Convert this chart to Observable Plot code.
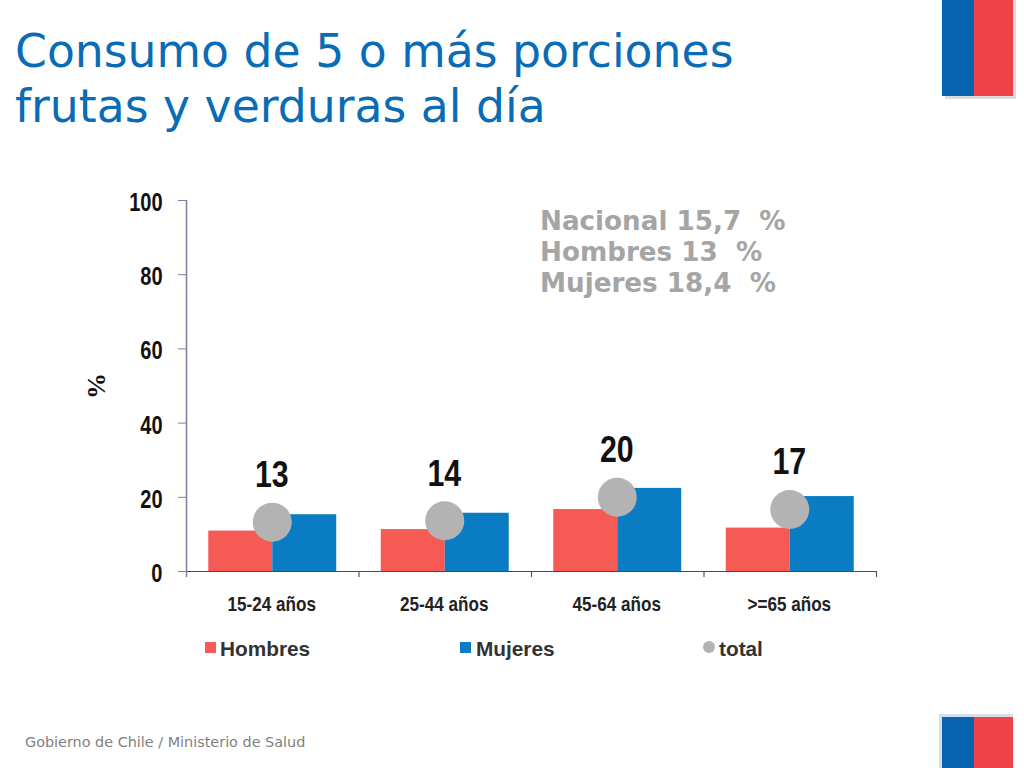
<!DOCTYPE html>
<html lang="es">
<head>
<meta charset="utf-8">
<script src="https://cdn.jsdelivr.net/npm/d3@7"></script>
<script src="https://cdn.jsdelivr.net/npm/@observablehq/plot@0.6"></script>
<style>
html,body{margin:0;padding:0;background:#fff;width:1024px;height:768px;overflow:hidden;}
#wrap{position:relative;width:1024px;height:768px;overflow:hidden;}
#chart{position:absolute;left:0;top:0;}
.abs{position:absolute;white-space:pre;}
#title{left:15px;top:24px;font:45.7px/55px "DejaVu Sans",sans-serif;color:#0a6cb4;}
#info{left:540px;top:206px;font:bold 26.2px/31px "DejaVu Sans",sans-serif;color:#a5a5a5;}
#foot{left:25px;top:733px;font:14.4px/18px "DejaVu Sans",sans-serif;color:#808080;}
.leg{font:bold 20.8px/24px "Liberation Sans",sans-serif;color:#333;top:637px;}
.sw{position:absolute;}
.blue{background:#0563b0;position:absolute;}
.red{background:#f04146;position:absolute;}
</style>
</head>
<body>
<div id="wrap">
  <div id="chart"></div>
  <div class="abs" id="title">Consumo de 5 o más porciones
frutas y verduras al día</div>
  <div class="abs" id="info">Nacional 15,7  %
Hombres 13  %
Mujeres 18,4  %</div>
  <div class="abs" id="foot">Gobierno de Chile / Ministerio de Salud</div>
  <div id="legend"></div>
  <div class="sw" style="left:945px;top:0;width:71px;height:99px;background:#dcdcdc"></div>
  <div class="blue" style="left:942px;top:0;width:32px;height:96px"></div>
  <div class="red" style="left:974px;top:0;width:39px;height:96px"></div>
  <div class="sw" style="left:939px;top:714px;width:74px;height:54px;background:#d5dde8"></div>
  <div class="blue" style="left:942px;top:717px;width:32px;height:51px"></div>
  <div class="red" style="left:974px;top:717px;width:39px;height:51px"></div>
</div>
<script>
const ages = ["15-24 años", "25-44 años", "45-64 años", ">=65 años"];
const series = ["Hombres", "Mujeres"];
const hombres = [10.9, 11.3, 16.7, 11.7];
const mujeres = [15.3, 15.7, 22.4, 20.2];
const total = [13.3, 13.7, 20, 16.7];
const totalLabels = ["13", "14", "20", "17"];
const yTicks = [0, 20, 40, 60, 80, 100];
const colors = ["#f55a55", "#0a7cc4"];
const totalColor = "#b3b3b3";

const sans = '"Liberation Sans",sans-serif';
const bars = ages.flatMap((a, i) => [
  {age: a, sex: series[0], v: hombres[i]},
  {age: a, sex: series[1], v: mujeres[i]}
]);
const totals = ages.map((a, i) => ({age: a, v: total[i], label: totalLabels[i]}));

const plot = Plot.plot({
  width: 1024, height: 768,
  marginLeft: 186, marginRight: 148, marginTop: 200, marginBottom: 197,
  style: {background: "transparent", overflow: "visible"},
  fx: {domain: ages, padding: 0, round: false, label: null},
  x: {domain: series, paddingInner: 0, paddingOuter: 0.348, round: false, axis: null},
  y: {domain: [0, 100], axis: null},
  color: {domain: series, range: colors},
  marks: [
    Plot.barY(bars, {fx: "age", x: "sex", y: "v", fill: "sex"}),
    Plot.ruleY([0], {stroke: "#4a4a4a", strokeWidth: 1.2}),
    Plot.ruleX(ages.slice(0, 1), {x: null, fx: d => d, dx: -86.25, y1: 100, y2: -1.6, stroke: "#7d7f9e", strokeWidth: 1.5}),
    Plot.ruleX(ages.slice(1), {x: null, fx: d => d, dx: -86.25, y1: 0, y2: -1.6, stroke: "#555", strokeWidth: 1.2}),
    Plot.ruleX(ages.slice(-1), {x: null, fx: d => d, dx: 86.25, y1: 0, y2: -1.6, stroke: "#555", strokeWidth: 1.2}),
    Plot.axisY({
      className: "narrow-y",
      ticks: yTicks, tickSize: 8, tickPadding: 16, stroke: "#7d7f9e", color: "#111",
      fontFamily: sans, fontWeight: "bold", fontSize: 25, label: null, strokeOpacity: 1
    }),
    Plot.axisFx({
      className: "narrow-x",
      anchor: "bottom", tickSize: 0, tickPadding: 25, color: "#222",
      fontFamily: sans, fontWeight: "bold", fontSize: 21, label: null
    }),
    Plot.dot(totals, {fx: "age", y: "v", r: 19.5, fill: totalColor, dx: -0.5}),
    Plot.text(totals, {className: "narrow-n", fx: "age", y: "v", text: "label", dy: -47, dx: -1, fill: "#111",
      fontFamily: sans, fontWeight: "bold", fontSize: 37}),
    Plot.text(["%"], {fx: () => ages[0], y: () => 50, frameAnchor: "left", textAnchor: "middle", dx: -90, rotate: -90, fill: "#111",
      fontFamily: '"Liberation Serif",serif', fontWeight: "bold", fontSize: 26})
  ]
});
document.getElementById("chart").append(plot);

// No narrow font is installed: condense the sans glyphs horizontally, as Arial Narrow would look.
const condense = (cls, k, dx = 0, dy = 0) => d3.select(plot).selectAll(`.${cls} text`).each(function () {
  const t = this.getAttribute("transform") || "";
  this.setAttribute("transform", `translate(${dx},${dy}) ${t} scale(${k},1)`);
});
condense("narrow-y", 0.8, 0, 2.5);
condense("narrow-x", 0.815, -1, 0);
condense("narrow-n", 0.82);

const legendItems = [
  {name: series[0], color: colors[0], sx: 205, tx: 220},
  {name: series[1], color: colors[1], sx: 460, tx: 476}
];
const legend = document.getElementById("legend");
for (const it of legendItems) {
  legend.insertAdjacentHTML("beforeend",
    `<div class="sw" style="left:${it.sx}px;top:642px;width:11px;height:11px;background:${it.color}"></div>` +
    `<div class="abs leg" style="left:${it.tx}px">${it.name}</div>`);
}
legend.insertAdjacentHTML("beforeend",
  `<div class="sw" style="left:703px;top:641px;width:12px;height:12px;border-radius:50%;background:${totalColor}"></div>` +
  `<div class="abs leg" style="left:719px">total</div>`);
</script>
</body>
</html>
